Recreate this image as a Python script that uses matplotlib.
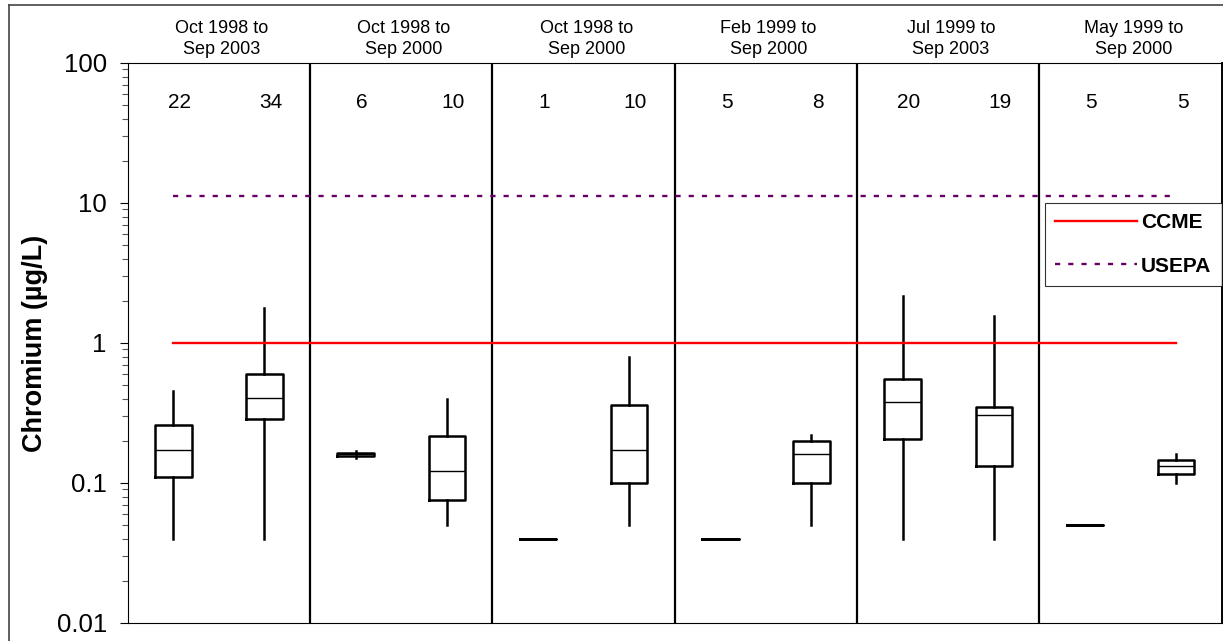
# Diagrama de cajas de cromo (escala log) por estación y período
import numpy as np
import matplotlib
matplotlib.use("Agg")
import matplotlib.pyplot as plt
from matplotlib.lines import Line2D
from matplotlib.transforms import blended_transform_factory

plt.rcParams['font.family'] = ['Liberation Sans', 'DejaVu Sans']

# datos
periodos = ["Oct 1998 to\nSep 2003", "Oct 1998 to\nSep 2000", "Oct 1998 to\nSep 2000",
            "Feb 1999 to\nSep 2000", "Jul 1999 to\nSep 2003", "May 1999 to\nSep 2000"]
n_muestras = [22, 34, 6, 10, 1, 10, 5, 8, 20, 19, 5, 5]
bigote_inf = [0.04, 0.04, 0.15, 0.05, 0.04, 0.05, 0.04, 0.05, 0.04, 0.04, 0.05, 0.10]
q1 = [0.111, 0.286, 0.156, 0.076, 0.04, 0.10, 0.04, 0.10, 0.207, 0.132, 0.05, 0.116]
mediana = [0.172, 0.405, 0.16, 0.121, 0.04, 0.173, 0.04, 0.162, 0.377, 0.306, 0.05, 0.133]
q3 = [0.26, 0.60, 0.165, 0.215, 0.04, 0.36, 0.04, 0.20, 0.553, 0.349, 0.05, 0.146]
bigote_sup = [0.457, 1.78, 0.17, 0.40, 0.04, 0.80, 0.04, 0.222, 2.15, 1.55, 0.05, 0.161]
ccme = 1.0
usepa = 11.3
yticks = [0.01, 0.1, 1, 10, 100]
ytick_labels = ["0.01", "0.1", "1", "10", "100"]

posiciones = np.arange(len(n_muestras)) + 0.5

fig = plt.figure(figsize=(12.23, 6.41), dpi=100)
ax = fig.add_axes([127.7 / 1223, 18 / 641, 1094 / 1223, 560 / 641])

stats = []
for i in range(len(n_muestras)):
    stats.append({"whislo": bigote_inf[i], "q1": q1[i], "med": mediana[i],
                  "q3": q3[i], "whishi": bigote_sup[i], "fliers": []})

ax.bxp(stats, positions=posiciones, widths=0.4, showcaps=False, showfliers=False,
       boxprops=dict(color='black', linewidth=1.8),
       whiskerprops=dict(color='black', linewidth=1.8),
       medianprops=dict(color='black', linewidth=1.0))

# separadores de grupos
for g in range(1, len(periodos)):
    ax.axvline(2 * g, color='black', linewidth=1.6)

linea_ccme, = ax.plot([posiciones[0], posiciones[-1]], [ccme, ccme], color='#ff0000',
                      linewidth=1.7, label='CCME')
linea_usepa, = ax.plot([posiciones[0], posiciones[-1]], [usepa, usepa], color='#660066',
                       linewidth=1.7, dashes=(2.2, 3.4), label='USEPA')

ax.set_yscale('log')
ax.set_ylim(0.01, 100)
ax.set_xlim(0, 12)
ax.set_yticks(yticks)
ax.set_yticklabels(ytick_labels)
ax.set_xticks([])
ax.tick_params(axis='y', which='major', length=6, width=0.8, pad=9, labelsize=18.5)
ax.tick_params(axis='y', which='minor', length=4.5, width=0.8, color='#555555')
for lado in ['top', 'bottom', 'left']:
    ax.spines[lado].set_linewidth(0.8)
ax.spines['right'].set_linewidth(1.4)

ax.set_ylabel("Chromium (µg/L)", fontsize=19.5, fontweight='bold')
ax.yaxis.set_label_coords(-0.073, 0.50)

trans = blended_transform_factory(ax.transData, ax.transAxes)
for i, n in enumerate(n_muestras):
    ax.text(posiciones[i] + 0.07, 0.93, str(n), transform=trans, ha='center', va='center',
            fontsize=15)
for g, texto in enumerate(periodos):
    ax.text(2 * g + 1.03, 1.043, texto, transform=trans, ha='center', va='center',
            fontsize=13, linespacing=1.3, clip_on=False)

leg = ax.legend(handles=[linea_ccme, linea_usepa], loc='upper left',
                bbox_to_anchor=(0.8385, 0.75), borderaxespad=0, frameon=True,
                fancybox=False, handlelength=3.9, handletextpad=0.2,
                labelspacing=1.17, borderpad=0.5,
                prop={'size': 15, 'weight': 'bold'})
leg.get_frame().set_edgecolor('black')
leg.get_frame().set_linewidth(0.8)

# borde exterior del gráfico
fig.add_artist(Line2D([8.5 / 1223, 8.5 / 1223], [0, 1 - 4.5 / 641], color='#444444',
                      linewidth=1.2, transform=fig.transFigure))
fig.add_artist(Line2D([8.5 / 1223, 1], [1 - 4.5 / 641, 1 - 4.5 / 641], color='#444444',
                      linewidth=1.2, transform=fig.transFigure))

fig.savefig("out.png", dpi=100)
